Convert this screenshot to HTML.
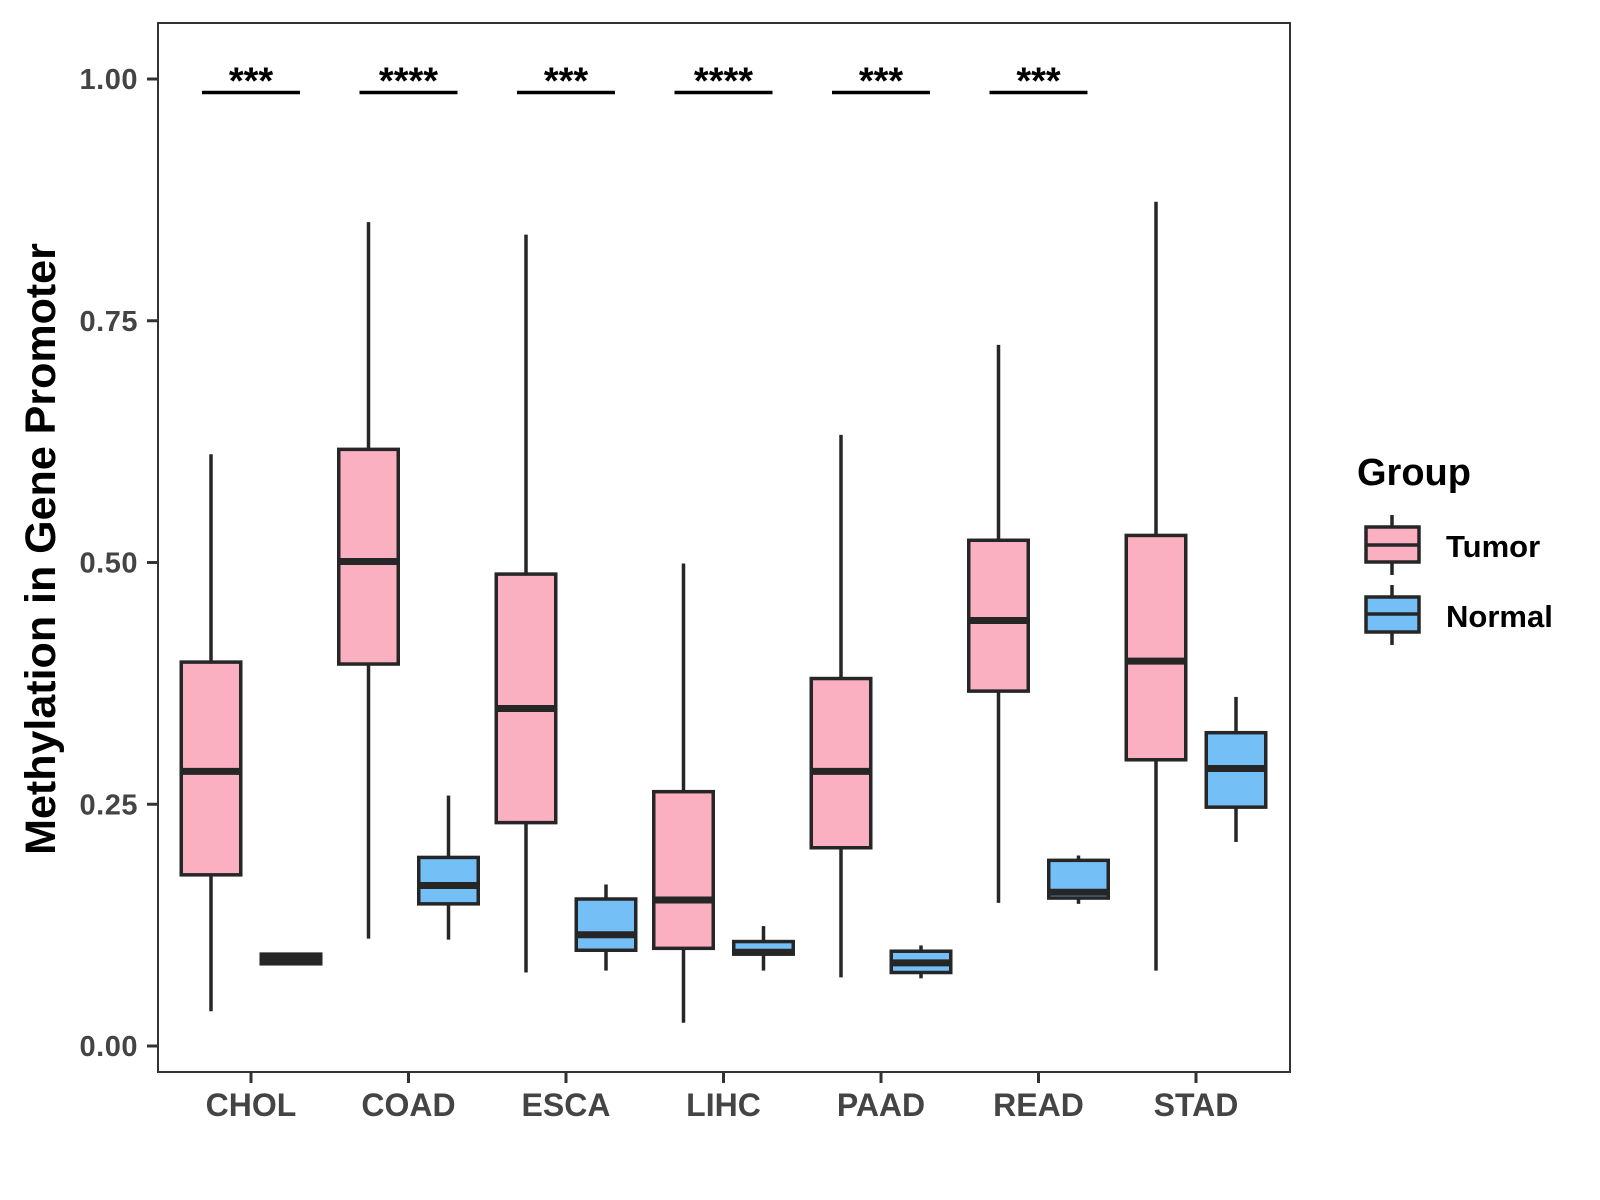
<!DOCTYPE html>
<html><head><meta charset="utf-8">
<style>html,body{margin:0;padding:0;background:#fff}svg{display:block}text{font-family:"Liberation Sans",Arial,sans-serif;font-weight:bold}</style>
</head><body>
<svg id="chart" width="1600" height="1200" viewBox="0 0 1600 1200" xmlns="http://www.w3.org/2000/svg">
<rect x="158" y="23" width="1132" height="1049" fill="#fff" stroke="#333" stroke-width="2"/>
<g id="yaxis"></g><g id="xaxis"></g><g id="marks"></g><g id="sig"></g>
<text transform="translate(55,549) rotate(-90)" text-anchor="middle" font-size="43" fill="#000">Methylation in Gene Promoter</text>
<g transform="translate(-6,0)">
<text x="1363" y="485" font-size="38" fill="#000">Group</text>
<g>
<line x1="1398" y1="515" x2="1398" y2="575" stroke="#262626" stroke-width="3.5"/>
<rect x="1372" y="527" width="53" height="35" fill="#FBB0C1" stroke="#262626" stroke-width="3.5"/>
<line x1="1372" y1="545" x2="1425" y2="545" stroke="#262626" stroke-width="3.5"/>
<text x="1452" y="557" font-size="31" fill="#000">Tumor</text></g>
<g>
<line x1="1398" y1="585" x2="1398" y2="645" stroke="#262626" stroke-width="3.5"/>
<rect x="1372" y="597" width="53" height="35" fill="#74BFF6" stroke="#262626" stroke-width="3.5"/>
<line x1="1372" y1="614" x2="1425" y2="614" stroke="#262626" stroke-width="3.5"/>
<text x="1452" y="627" font-size="31" fill="#000">Normal</text></g>
</g>
</svg>
<script>
const categories=["CHOL","COAD","ESCA","LIHC","PAAD","READ","STAD"];
const tumorLow=[0.036,0.111,0.076,0.024,0.071,0.148,0.078];
const tumorQ1=[0.177,0.395,0.231,0.101,0.205,0.367,0.296];
const tumorMed=[0.284,0.501,0.349,0.151,0.284,0.440,0.398];
const tumorQ3=[0.397,0.617,0.488,0.263,0.380,0.523,0.528];
const tumorHigh=[0.612,0.852,0.839,0.499,0.632,0.725,0.873];
const normalLow=[0.085,0.110,0.078,0.078,0.070,0.147,0.211];
const normalQ1=[0.085,0.147,0.099,0.095,0.076,0.153,0.247];
const normalMed=[0.090,0.166,0.115,0.097,0.086,0.159,0.287];
const normalQ3=[0.095,0.195,0.152,0.108,0.098,0.192,0.324];
const normalHigh=[0.095,0.259,0.167,0.124,0.104,0.197,0.361];
const sigLabels=["***","****","***","****","***","***"];
const sigLevel=0.986;
const yTicks=[0,0.25,0.5,0.75,1.0];
const yTickLabels=["0.00","0.25","0.50","0.75","1.00"];
const NS="http://www.w3.org/2000/svg";
function y(v){return 1046-v*967;}
function x(i){return 251+i*157.5;}
function mk(parent,tag,attrs){const e=document.createElementNS(NS,tag);for(const k in attrs)e.setAttribute(k,attrs[k]);parent.appendChild(e);return e;}
const ya=document.getElementById('yaxis'),xa=document.getElementById('xaxis'),mg=document.getElementById('marks'),sg=document.getElementById('sig');
yTicks.forEach((t,i)=>{
 const l=mk(ya,'line',{x1:147,x2:158,y1:y(t),y2:y(t),stroke:'#333','stroke-width':3});
 
 
 const tx=mk(ya,'text',{x:138,y:y(t)+10,'text-anchor':'end','font-size':29,fill:'#444','letter-spacing':0.5});
 tx.textContent=yTickLabels[i];
 
 
});
categories.forEach((c,i)=>{
 const l=mk(xa,'line',{x1:x(i),x2:x(i),y1:1072,y2:1083,stroke:'#333','stroke-width':3});
 
 
 const tx=mk(xa,'text',{x:x(i),y:1116,'text-anchor':'middle','font-size':32,fill:'#444'});
 tx.textContent=c;
 
 
});
function box(i,off,lo,q1,md,q3,hi,fill,name){
 const cx=x(i)+off,w=59.5;
 const g=mk(mg,'g',{});
 
 
 mk(g,'line',{x1:cx,x2:cx,y1:y(hi),y2:y(q3),stroke:'#262626','stroke-width':3.5});
 mk(g,'line',{x1:cx,x2:cx,y1:y(q1),y2:y(lo),stroke:'#262626','stroke-width':3.5});
 mk(g,'rect',{x:cx-w/2,y:y(q3),width:w,height:Math.max(y(q1)-y(q3),0.5),fill:fill,stroke:'#262626','stroke-width':3.5});
 mk(g,'line',{x1:cx-w/2,x2:cx+w/2,y1:y(md),y2:y(md),stroke:'#262626','stroke-width':7});
}
categories.forEach((c,i)=>{
 box(i,-40,tumorLow[i],tumorQ1[i],tumorMed[i],tumorQ3[i],tumorHigh[i],'#FBB0C1','box-tumor-'+c.toLowerCase());
 box(i,40,normalLow[i],normalQ1[i],normalMed[i],normalQ3[i],normalHigh[i],'#74BFF6','box-normal-'+c.toLowerCase());
});
sigLabels.forEach((s,i)=>{
 const l=mk(sg,'line',{x1:x(i)-49,x2:x(i)+49,y1:y(sigLevel),y2:y(sigLevel),stroke:'#000','stroke-width':3.5});
 
 
 const tx=mk(sg,'text',{x:x(i),y:y(sigLevel)+1,'text-anchor':'middle','font-size':38,fill:'#000'});
 tx.textContent=s;
 
 
});
</script>
</body></html>
